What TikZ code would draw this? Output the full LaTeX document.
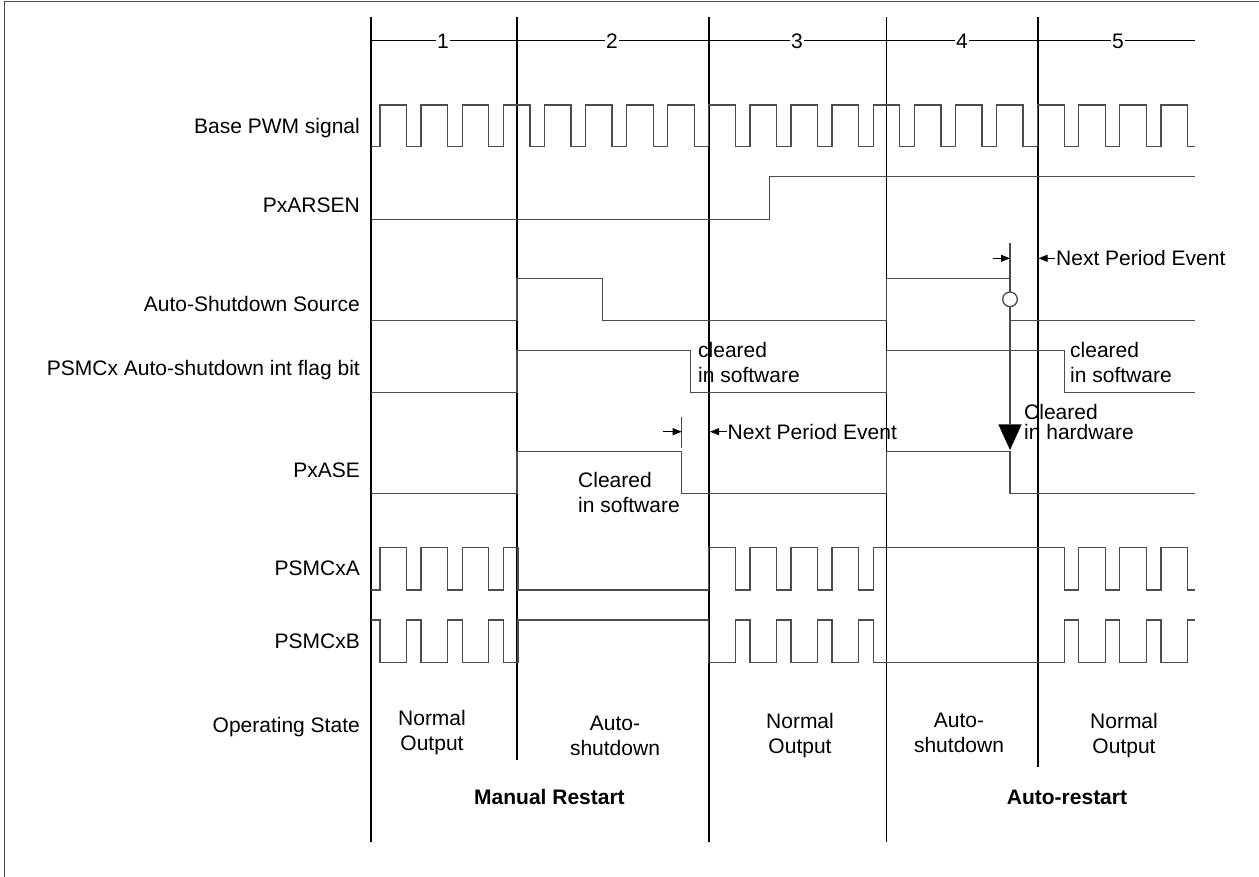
\documentclass[tikz,border=0pt]{standalone}
\usepackage{fontspec}
\setmainfont{Liberation Sans}
\usetikzlibrary{arrows.meta}
\newcommand\labfont{\fontsize{21}{25}\selectfont}
\newcommand\hwfont{\fontsize{21}{19.5}\selectfont}
\begin{document}
\begin{tikzpicture}[x=1pt,y=-1pt,
  sig/.style={draw=black!70,line width=1.3pt},
  bnd/.style={draw=black,line width=1.2pt},
  lbl/.style={font=\labfont,inner sep=0pt,anchor=base east},
  txt/.style={font=\labfont,inner sep=0pt},
  num/.style={font=\labfont,fill=white,inner xsep=1pt,inner ysep=0pt,text height=15pt,text depth=0pt,anchor=base},
  tip/.style={draw=black,line width=1pt,-{Triangle[length=9pt,width=7pt]}}]
\useasboundingbox (0,0) rectangle (1259,877);
% frame
\draw[line width=1.6pt,black!70] (4.5,877) -- (4.5,1.5) -- (1259,1.5);
% section boundaries
\draw[bnd] (371,17) -- (371,842);
\draw[bnd] (517,17) -- (517,760);
\draw[bnd] (709,17) -- (709,842);
\draw[bnd] (886.5,17) -- (886.5,842);
\draw[bnd] (1038,17) -- (1038,767);
% section numbers
\draw[bnd] (371,40.7) -- (1195,40.7);
\node[num] (n1) at (443,48.2) {1};
\node[num] (n2) at (612,48.2) {2};
\node[num] (n3) at (797,48.2) {3};
\node[num] (n4) at (962,48.2) {4};
\node[num] (n5) at (1118,48.2) {5};
% row labels
\node[lbl] (lpwm) at (360,133.5) {Base PWM signal};
\node[lbl] (lars) at (360,212.5) {PxARSEN};
\node[lbl] (lsrc) at (360,311.5) {Auto-Shutdown Source};
\node[lbl] (lflag) at (360,375.5) {PSMCx Auto-shutdown int flag bit};
\node[lbl] (lase) at (360,477.5) {PxASE};
\node[lbl] (la) at (360,575.5) {PSMCxA};
\node[lbl] (lb) at (360,648.5) {PSMCxB};
\node[lbl] (lop) at (360,732.5) {Operating State};
% Base PWM
\draw[sig] (371,146.7) foreach \k in {0,...,19} {
  -- ({380+41.1*\k},146.7) -- ({380+41.1*\k},105) -- ({406.6+41.1*\k},105) -- ({406.6+41.1*\k},146.7) }
  -- (1195,146.7);
% PxARSEN
\draw[sig] (371,219.3) -- (769.3,219.3) -- (769.3,176.7) -- (1195,176.7);
% Auto-shutdown source
\draw[sig] (371,320.7) -- (517,320.7) -- (517,278.3) -- (602.3,278.3) -- (602.3,320.7)
  -- (886.5,320.7) -- (886.5,278.3) -- (1010,278.3) -- (1010,320.7) -- (1195,320.7);
\draw[sig] (1010,243.3) -- (1010,424.3);
\draw[sig,fill=white] (1010,299.3) circle (7.3);
\coordinate (t1a) at (992.7,258.3);
\coordinate (t1b) at (1010,258.3);
\coordinate (t2a) at (1055,258.3);
\coordinate (t2b) at (1038.5,258.3);
\draw[tip] (t1a) -- (t1b);
\draw[tip] (t2a) -- (t2b);
\node[txt,anchor=west] (npe1) at (1056,258.3) {Next Period Event};
% flag bit
\draw[sig] (371,392.3) -- (517,392.3) -- (517,350.7) -- (690.7,350.7) -- (690.7,392.3)
  -- (886.5,392.3) -- (886.5,350.7) -- (1064.3,350.7) -- (1064.3,392.3) -- (1195,392.3);
\node[txt,anchor=west,align=left] (cs1) at (698,362.5) {cleared\\in software};
\node[txt,anchor=west,align=left] (cs2) at (1070,362.5) {cleared\\in software};
% PxASE
\draw[sig] (371,493.3) -- (517,493.3) -- (517,451.7) -- (681.7,451.7) -- (681.7,493.3)
  -- (886.5,493.3) -- (886.5,451.7) -- (1010,451.7) -- (1010,493.3) -- (1195,493.3);
\draw[sig] (681.7,416.7) -- (681.7,447.7);
\coordinate (t3a) at (663.3,431.7);
\coordinate (t3b) at (681.7,431.7);
\coordinate (t4a) at (726.7,431.7);
\coordinate (t4b) at (710,431.7);
\draw[tip] (t3a) -- (t3b);
\draw[tip] (t4a) -- (t4b);
\node[txt,anchor=west] (npe2) at (727.5,431.7) {Next Period Event};
\node[txt,anchor=west,align=left] (cs3) at (578,492.5) {Cleared\\in software};
\fill[black] (998.3,424.3) -- (1021.7,424.3) -- (1010,450) -- cycle;
\node[txt,anchor=west,align=left,font=\hwfont] (ch) at (1024,422) {Cleared\\in hardware};
% PSMCxA
\draw[sig] (371,590) foreach \k in {0,1,2} {
  -- ({380+41.1*\k},590) -- ({380+41.1*\k},547.3) -- ({406.6+41.1*\k},547.3) -- ({406.6+41.1*\k},590) }
  -- (503.3,590) -- (503.3,547.3) -- (518,547.3) -- (518,590) -- (708.8,590)
  foreach \k in {8,...,11} {
  -- ({380+41.1*\k},590) -- ({380+41.1*\k},547.3) -- ({406.6+41.1*\k},547.3) -- ({406.6+41.1*\k},590) }
  -- (873.2,590) -- (873.2,547.3) -- (1064.2,547.3) -- (1064.2,590)
  foreach \k in {17,18,19} {
  -- ({380+41.1*\k},590) -- ({380+41.1*\k},547.3) -- ({406.6+41.1*\k},547.3) -- ({406.6+41.1*\k},590) }
  -- (1195,590);
% PSMCxB
\draw[sig] (371,620) -- (380,620) -- (380,662.7) foreach \k in {0,1,2} {
  -- ({406.6+41.1*\k},662.7) -- ({406.6+41.1*\k},620) -- ({421.1+41.1*\k},620) -- ({421.1+41.1*\k},662.7) }
  -- (518,662.7) -- (518,620) -- (708.8,620) -- (708.8,662.7)
  foreach \k in {8,...,11} {
  -- ({406.6+41.1*\k},662.7) -- ({406.6+41.1*\k},620) -- ({421.1+41.1*\k},620) -- ({421.1+41.1*\k},662.7) }
  -- (1064.2,662.7) -- (1064.2,620) -- (1078.7,620) -- (1078.7,662.7)
  foreach \k in {17,18} {
  -- ({406.6+41.1*\k},662.7) -- ({406.6+41.1*\k},620) -- ({421.1+41.1*\k},620) -- ({421.1+41.1*\k},662.7) }
  -- (1187.5,662.7) -- (1187.5,620) -- (1195,620);
% operating states
\node[txt,align=center] (s1) at (432,732.5) {Normal\\Output};
\node[txt,align=center] (s2) at (615,735.5) {Auto-\\shutdown};
\node[txt,align=center] (s3) at (800,735.5) {Normal\\Output};
\node[txt,align=center] (s4) at (959,732.5) {Auto-\\shutdown};
\node[txt,align=center] (s5) at (1124,735.5) {Normal\\Output};
\node[txt,font=\labfont\bfseries] (mr) at (549.5,797) {Manual Restart};
\node[txt,font=\labfont\bfseries] (ar) at (1067,797) {Auto-restart};
\end{tikzpicture}
\end{document}
